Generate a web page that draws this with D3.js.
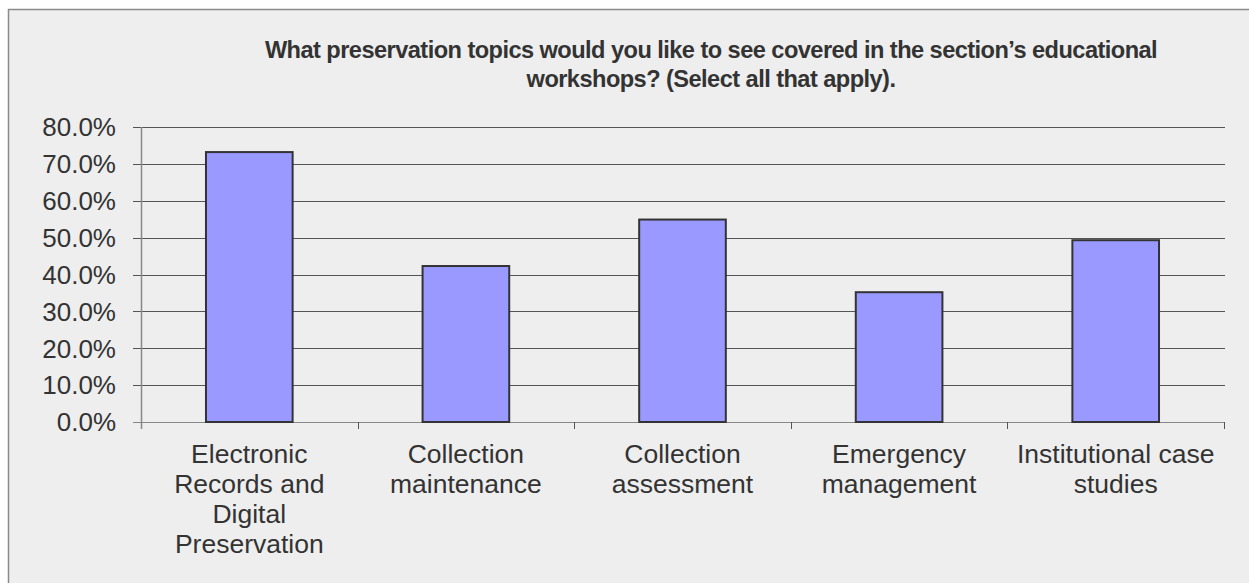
<!DOCTYPE html>
<html>
<head>
<meta charset="utf-8">
<script src="https://cdn.jsdelivr.net/npm/d3@7"></script>
<style>
  html, body { margin: 0; padding: 0; background: #ffffff; }
  svg { display: block; }
  text { font-family: "Liberation Sans", Arial, Helvetica, sans-serif; fill: #333333; }
</style>
</head>
<body>
<svg id="chart" width="1249" height="583"></svg>
<script>
// ---- data ----
const titleLines = [
  "What preservation topics would you like to see covered in the section\u2019s educational",
  "workshops? (Select all that apply)."
];
const categories = [
  "Electronic Records and Digital Preservation",
  "Collection maintenance",
  "Collection assessment",
  "Emergency management",
  "Institutional case studies"
];
const categoryLines = [
  ["Electronic", "Records and", "Digital", "Preservation"],
  ["Collection", "maintenance"],
  ["Collection", "assessment"],
  ["Emergency", "management"],
  ["Institutional case", "studies"]
];
const values = [0.732, 0.423, 0.549, 0.352, 0.493];
const yTicks = [0, 0.1, 0.2, 0.3, 0.4, 0.5, 0.6, 0.7, 0.8];
const yTickLabels = ["0.0%", "10.0%", "20.0%", "30.0%", "40.0%", "50.0%", "60.0%", "70.0%", "80.0%"];

// ---- layout ----
(function () {
const svg = d3.select("#chart");
const pL = 141, pR = 1224, pT = 127, pB = 422;

svg.append("rect")
  .attr("x", 8.5).attr("y", 9.5)
  .attr("width", 1300).attr("height", 600)
  .attr("fill", "#eeeeee").attr("stroke", "#8a8a8a").attr("stroke-width", 1.5);

const x = d3.scaleBand().domain(categories).range([pL, pR]).padding(0);
const y = d3.scaleLinear().domain([0, 0.8]).range([pB, pT]);

// title
svg.append("text")
  .attr("x", 711).attr("y", 58)
  .attr("text-anchor", "middle")
  .style("font-size", "23.6px").style("font-weight", "bold").style("letter-spacing", "-0.55px")
  .selectAll("tspan").data(titleLines).join("tspan")
  .attr("x", 711).attr("dy", (d, i) => i === 0 ? 0 : 29)
  .text(d => d);

// gridlines
svg.append("g").selectAll("line").data(yTicks).join("line")
  .attr("x1", pL - 8).attr("x2", pR + 1)
  .attr("y1", d => Math.round(y(d)) + 0.5).attr("y2", d => Math.round(y(d)) + 0.5)
  .attr("stroke", d => d === 0 ? "#888888" : "#555555").attr("stroke-width", 1);

// y tick labels
svg.append("g").selectAll("text").data(yTicks).join("text")
  .attr("x", 116).attr("y", d => y(d))
  .attr("dy", "0.36em")
  .attr("text-anchor", "end")
  .style("font-size", "26px")
  .text((d, i) => yTickLabels[i]);

// y axis line
svg.append("line")
  .attr("x1", pL + 0.5).attr("x2", pL + 0.5)
  .attr("y1", pT).attr("y2", pB + 7)
  .attr("stroke", "#888888").attr("stroke-width", 1.5);

// category ticks
const boundaries = categories.map(c => x(c) + x.bandwidth());
svg.append("g").selectAll("line").data(boundaries).join("line")
  .attr("x1", d => Math.round(d) + 0.5).attr("x2", d => Math.round(d) + 0.5)
  .attr("y1", pB).attr("y2", pB + 7)
  .attr("stroke", "#555555").attr("stroke-width", 1);

// bars
const bw = x.bandwidth() * 0.4;
svg.append("g").selectAll("rect").data(values).join("rect")
  .attr("x", (d, i) => x(categories[i]) + (x.bandwidth() - bw) / 2)
  .attr("y", d => y(d))
  .attr("width", bw)
  .attr("height", d => y(0) - y(d))
  .attr("fill", "#9999ff")
  .attr("stroke", "#333333").attr("stroke-width", 2);

// category labels
const lab = svg.append("g").selectAll("text").data(categories).join("text")
  .attr("text-anchor", "middle")
  .style("font-size", "26.5px");
lab.each(function (c, i) {
  const cx = x(c) + x.bandwidth() / 2;
  d3.select(this).selectAll("tspan").data(categoryLines[i]).join("tspan")
    .attr("x", cx).attr("y", (d, j) => 463 + j * 30)
    .text(d => d);
});
})();
</script>
</body>
</html>
